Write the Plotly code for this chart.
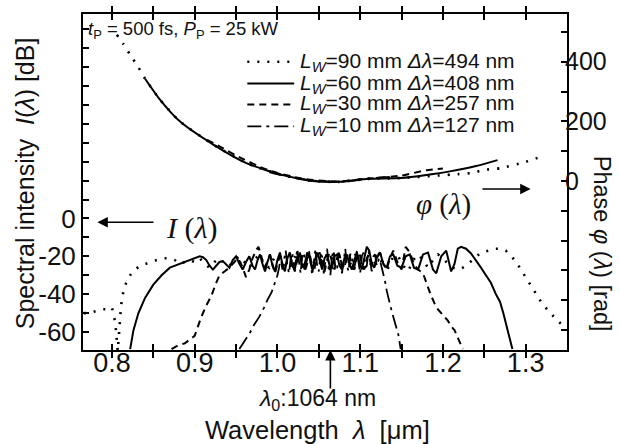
import plotly.graph_objects as go

# ---------------- data ----------------
# Spectral intensity I(lambda) [dB] (left axis)
lam_90 = [0.766, 0.772, 0.780, 0.788, 0.794, 0.800, 0.804, 0.806, 0.807, 0.809, 0.811, 0.814, 0.818,
          0.822, 0.828, 0.834, 0.840, 0.846, 0.854, 0.862, 0.870, 0.876, 0.882, 0.888, 0.894,
          0.900, 0.906, 0.912, 0.918, 0.924, 0.930, 0.936, 0.942, 0.948, 0.954, 0.960, 0.966,
          0.972, 0.978, 0.984, 0.990, 0.996, 1.002, 1.008, 1.014, 1.020, 1.026, 1.032, 1.038,
          1.044, 1.050, 1.056, 1.062, 1.068, 1.074, 1.080, 1.086, 1.092, 1.098, 1.104, 1.110,
          1.116, 1.122, 1.128, 1.134, 1.140, 1.146, 1.152, 1.158, 1.164, 1.170, 1.176, 1.182,
          1.188, 1.194, 1.200, 1.206, 1.212, 1.220, 1.228, 1.236, 1.246, 1.256, 1.262, 1.269,
          1.276, 1.282, 1.290, 1.300, 1.310, 1.320, 1.330, 1.341, 1.350]
I_90 = [-50, -50, -49, -48, -48, -47, -55, -63, -70, -58, -46, -38, -33,
        -30, -27, -25, -24, -23, -22, -21, -21, -22, -24, -23, -22,
        -23, -21, -24, -26, -23, -21, -24, -25, -22, -20, -23, -26,
        -22, -19, -24, -26, -21, -19, -24, -27, -21, -18, -24, -26,
        -20, -19, -25, -26, -20, -19, -25, -26, -20, -18, -24, -27,
        -21, -19, -25, -26, -20, -20, -25, -28, -22, -19, -22, -26,
        -22, -19, -21, -24, -26, -27, -25, -22, -18, -17, -16, -16,
        -17, -19.5, -24, -31, -38, -45, -50, -55, -58]

lam_60 = [0.822, 0.826, 0.832, 0.840, 0.850, 0.860, 0.870, 0.882, 0.894, 0.900, 0.906, 0.910,
          0.914, 0.918, 0.922, 0.926, 0.930, 0.934, 0.938, 0.942, 0.946, 0.950, 0.954, 0.958,
          0.962, 0.966, 0.970, 0.973, 0.976, 0.979, 0.982, 0.985, 0.988, 0.991, 0.994, 0.997,
          1.000, 1.003, 1.006, 1.009, 1.012, 1.015, 1.018, 1.021, 1.024, 1.027, 1.030, 1.033,
          1.036, 1.039, 1.042, 1.045, 1.048, 1.051, 1.054, 1.057, 1.060, 1.063, 1.066, 1.069,
          1.072, 1.075, 1.078, 1.081, 1.084, 1.087, 1.090, 1.093, 1.096, 1.099, 1.102, 1.105,
          1.108, 1.111, 1.114, 1.117, 1.120, 1.124, 1.128, 1.132, 1.136, 1.140, 1.145, 1.150,
          1.155, 1.160, 1.165, 1.170, 1.176, 1.182, 1.188, 1.192, 1.198, 1.204, 1.210, 1.214,
          1.218, 1.222, 1.228, 1.234, 1.240, 1.246, 1.252, 1.258, 1.264, 1.269, 1.273, 1.276,
          1.280, 1.284]
I_60 = [-69, -59, -50, -42, -35, -30, -26, -24, -22, -21, -20, -20.5,
        -22, -25, -27, -25, -23, -22.5, -24, -26, -22, -20, -24, -27,
        -23, -20, -25, -27, -22, -19, -24, -28, -23, -19, -25, -28,
        -22, -18, -24, -28, -21, -18, -25, -27, -20, -19, -26, -24,
        -18, -21, -27, -23, -18, -22, -27, -21, -19, -25, -26, -20,
        -19, -25, -27, -21, -19, -24, -27, -22, -18, -23, -27, -21,
        -15, -17, -24, -26, -21, -18, -24, -26, -20, -19, -25, -26,
        -20, -19, -26, -27, -19, -18, -27, -29, -20, -17, -28, -24,
        -16, -15, -16, -18.5, -22, -26, -30, -34, -40, -44, -50, -55,
        -61, -69]

lam_30 = [0.872, 0.880, 0.888, 0.894, 0.900, 0.904, 0.908, 0.914, 0.920, 0.926, 0.930, 0.936,
          0.942, 0.948, 0.952, 0.955, 0.958, 0.962, 0.966, 0.970, 0.974, 0.977, 0.980, 0.984,
          0.988, 0.991, 0.994, 0.997, 1.000, 1.003, 1.006, 1.009, 1.012, 1.015, 1.018, 1.021,
          1.024, 1.027, 1.030, 1.033, 1.036, 1.039, 1.042, 1.045, 1.048, 1.051, 1.054, 1.057,
          1.060, 1.063, 1.066, 1.069, 1.072, 1.075, 1.078, 1.081, 1.084, 1.087, 1.090, 1.093,
          1.096, 1.099, 1.102, 1.105, 1.108, 1.111, 1.114, 1.117, 1.120, 1.124, 1.128, 1.132,
          1.136, 1.140, 1.145, 1.150, 1.155, 1.160, 1.165, 1.170, 1.176, 1.180, 1.185, 1.190,
          1.194, 1.200, 1.206, 1.210, 1.214, 1.219, 1.224]
I_30 = [-69, -67, -66, -64, -62, -57, -52, -46, -41, -34, -30, -28,
        -26, -23, -21, -23, -26, -31, -27, -21, -17, -15, -19, -26,
        -23, -19, -24, -29, -24, -20, -25, -27, -21, -19, -24, -28,
        -22, -18, -23, -27, -21, -19, -25, -26, -20, -18, -24, -28,
        -22, -18, -23, -27, -21, -19, -25, -26, -20, -19, -25, -27,
        -21, -18, -24, -27, -21, -19, -25, -26, -20, -18, -24, -27,
        -21, -17, -23, -27, -15, -18, -24, -27, -29, -34, -40, -45,
        -48, -51, -54, -57, -59, -64, -69]

lam_10 = [0.954, 0.960, 0.966, 0.972, 0.978, 0.984, 0.988, 0.993, 0.996, 0.998, 1.000,
          1.002, 1.004, 1.006, 1.008, 1.010, 1.012, 1.014, 1.016, 1.018, 1.020, 1.022, 1.024,
          1.026, 1.028, 1.030, 1.032, 1.034, 1.036, 1.038, 1.040, 1.042, 1.044, 1.046, 1.048,
          1.050, 1.052, 1.054, 1.056, 1.058, 1.060, 1.062, 1.064, 1.066, 1.068, 1.070, 1.072,
          1.074, 1.076, 1.078, 1.080, 1.082, 1.084, 1.086, 1.088, 1.090, 1.092, 1.094, 1.096,
          1.098, 1.100, 1.102, 1.104, 1.106, 1.108, 1.110, 1.112, 1.114, 1.116, 1.118, 1.120,
          1.123, 1.125, 1.128, 1.130, 1.132, 1.134, 1.137, 1.140, 1.143, 1.146, 1.149]
I_10 = [-69, -65, -61, -56, -52, -47, -43, -39, -35, -32, -30,
        -26, -20, -27, -22, -17, -25, -29, -21, -18, -26, -23, -16,
        -24, -29, -20, -18, -27, -24, -17, -22, -30, -21, -16, -25,
        -28, -19, -20, -29, -23, -16, -24, -30, -20, -17, -26, -27,
        -18, -21, -29, -22, -16, -25, -28, -19, -19, -27, -24, -17,
        -23, -29, -20, -18, -26, -25, -17, -22, -28, -20, -19, -25,
        -21, -24, -29, -33, -38, -42, -47, -52, -57, -61, -69]

# Phase phi(lambda) [rad] (right axis)
plam_90 = [0.806, 0.8136, 0.822, 0.8316, 0.840, 0.858, 0.882, 0.922, 0.9625, 1.002, 1.042,
           1.074, 1.110, 1.150, 1.218, 1.235, 1.250, 1.270, 1.299, 1.317]
phi_90 = [490, 460, 423, 383, 343, 273, 200, 123, 60, 23, 0,
          -3, 7, 10, 23, 27, 37, 43, 63, 80]
plam_60 = [0.840, 0.858, 0.882, 0.922, 0.9625, 1.002, 1.042, 1.074, 1.110, 1.150, 1.180,
           1.210, 1.240, 1.266]
phi_60 = [343, 273, 200, 123, 60, 23, 0, -3, 7, 10, 20, 33, 50, 70]
plam_30 = [0.915, 0.934, 0.950, 0.990, 1.030, 1.070, 1.110, 1.150, 1.180, 1.200]
phi_30 = [138, 110, 85, 35, 8, -2, 8, 18, 36, 42]
plam_10 = [0.990, 1.020, 1.050, 1.080, 1.110, 1.140]
phi_10 = [30, 10, 0, -2, 8, 14]

legend_labels = ["=90 mm", "=60 mm", "=30 mm", "=10 mm"]
bandwidths = ["494", "408", "257", "127"]

x_ticks = [0.8, 0.85, 0.9, 0.95, 1.0, 1.05, 1.1, 1.15, 1.2, 1.25, 1.3]
x_ticktext = ["0.8", " ", "0.9", " ", "1.0", " ", "1.1", " ", "1.2", " ", "1.3"]
yl_ticks = [-60, -50, -40, -30, -20, -10, 0, 10, 20, 30, 40, 50, 60, 70, 80, 90, 100]
yl_ticktext = ["-60", " ", "-40", " ", "-20", " ", "0", " ", " ", " ", " ", " ", " ", " ", " ", " ", " "]
yr_ticks = [-500, -400, -300, -200, -100, 0, 100, 200, 300, 400, 500]
yr_ticktext = [" ", " ", " ", " ", " ", "0", " ", "200", " ", "400", " "]

x_range = [0.765, 1.35]
yl_range = [-69.5, 108]
yr_range = [-567, 560]

# ---------------- styling ----------------
FONT = "Liberation Sans"
SERIF = "Liberation Serif"
dashes = ["2px,8px", "solid", "7px,5px", "14px,5px,3px,5px"]
widths = [2.6, 2.0, 2.0, 1.8]

L, R, T, B = 83, 50, 12, 94
W, H = 619, 444
pw, ph = W - L - R, H - T - B

def px2x(p):
    return (p - L) / pw

def py2y(p):
    return (H - B - p) / ph

# legend key layout (paper-like coordinates on a hidden overlay axis pair)
key_x = [px2x(248), px2x(295)]
row_y = [60, 82, 103, 125]

fig = go.Figure()
spectra = [(lam_90, I_90), (lam_60, I_60), (lam_30, I_30), (lam_10, I_10)]
phases = [(plam_90, phi_90), (plam_60, phi_60), (plam_30, phi_30), (plam_10, phi_10)]

for k, ((lx, ly), (px, py)) in enumerate(zip(spectra, phases)):
    style = dict(color="black", width=widths[k], dash=dashes[k])
    fig.add_trace(go.Scatter(x=lx, y=ly, mode="lines", showlegend=False, line=style))
    fig.add_trace(go.Scatter(x=px, y=py, mode="lines", yaxis="y2", showlegend=False,
                             line=dict(style, shape="spline", smoothing=0.6)))
    fig.add_trace(go.Scatter(x=key_x, y=[py2y(row_y[k])] * 2, xaxis="x3", yaxis="y3",
                             mode="lines", showlegend=False, hoverinfo="skip", line=style))

def label(xp, yp, text, size, family=FONT, angle=0, xanchor="center"):
    return dict(xref="paper", yref="paper", x=px2x(xp), y=py2y(yp), xanchor=xanchor,
                yanchor="middle", showarrow=False, text=text, textangle=angle,
                font=dict(family=family, size=size, color="#111"))

annotations = []
for k in range(4):
    annotations.append(label(299, row_y[k],
                             "<i>L</i><sub><i>W</i></sub>" + legend_labels[k] + " <i>Δλ</i>=" +
                             bandwidths[k] + " nm", 21, xanchor="left"))
annotations.append(label(86, 28, "<i>t</i><sub>P</sub> = 500 fs, <i>P</i><sub>P</sub> = 25 kW", 18.5,
                         xanchor="left"))
annotations.append(dict(xref="x", yref="y", x=0.7824, y=-2, ax=0.852, ay=-2, axref="x", ayref="y",
                        text="", showarrow=True, arrowhead=2, arrowsize=1.3, arrowwidth=1.6,
                        arrowcolor="black"))
annotations.append(label(192, 227, "<i>I</i> (<i>λ</i>)", 30, family=SERIF))
annotations.append(dict(xref="x", yref="y2", x=1.306, y=-27, ax=1.246, ay=-27, axref="x", ayref="y2",
                        text="", showarrow=True, arrowhead=2, arrowsize=1.3, arrowwidth=1.6,
                        arrowcolor="black"))
annotations.append(label(445, 204, "<i>φ</i> (<i>λ</i>)", 29, family=SERIF))
annotations.append(dict(xref="x", yref="paper", x=1.064, y=0, ax=0, ay=40,
                        text="", showarrow=True, arrowhead=2, arrowsize=1.3, arrowwidth=1.6,
                        arrowcolor="black"))
annotations.append(label(318, 400, "<i>λ</i><sub>0</sub>:1064 nm", 23))
annotations.append(label(318, 430, "Wavelength&nbsp;&nbsp;<i>λ</i>&nbsp;&nbsp;[μm]", 25.5))
annotations.append(label(25, 182, "Spectral intensity&nbsp;&nbsp;<i>I</i>(<i>λ</i>) [dB]", 25, angle=-90))
annotations.append(label(605, 243, "Phase <i>φ</i> (<i>λ</i>) [rad]", 23.5, angle=90))

axis_common = dict(showgrid=False, zeroline=False, showline=True, linecolor="black", linewidth=2,
                   ticks="inside", ticklen=6, tickwidth=1.5, tickcolor="black", tickmode="array")

fig.update_layout(
    width=W, height=H, margin=dict(l=L, r=R, t=T, b=B),
    paper_bgcolor="white", plot_bgcolor="white",
    showlegend=False,
    xaxis=dict(range=x_range, tickvals=x_ticks, ticktext=x_ticktext, ticklabelstandoff=-12,
               mirror="allticks", tickfont=dict(family=FONT, size=27, color="#111"), **axis_common),
    yaxis=dict(range=yl_range, tickvals=yl_ticks, ticktext=yl_ticktext,
               tickfont=dict(family=FONT, size=26, color="#111"), **axis_common),
    yaxis2=dict(range=yr_range, overlaying="y", side="right", ticklabelstandoff=-9,
                tickvals=yr_ticks, ticktext=yr_ticktext,
                tickfont=dict(family=FONT, size=25, color="#111"), **axis_common),
    xaxis3=dict(range=[0, 1], overlaying="x", anchor="y3", visible=False),
    yaxis3=dict(range=[0, 1], overlaying="y", anchor="x3", visible=False),
    annotations=annotations,
)

fig.write_html("out.html")
